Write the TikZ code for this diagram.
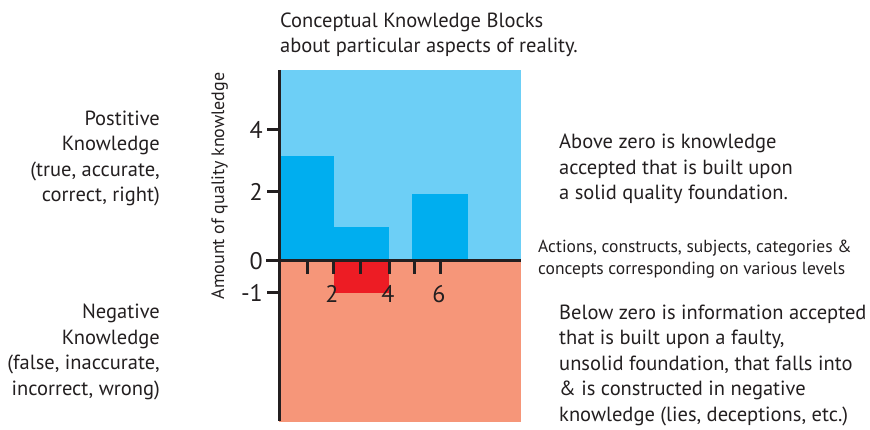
\documentclass[tikz,border=0pt]{standalone}
\usepackage{fontspec}
\setmainfont{PT Sans}
\definecolor{ink}{HTML}{231F20}
\definecolor{posfill}{HTML}{6DCFF6}
\definecolor{negfill}{HTML}{F69679}
\definecolor{blockblue}{HTML}{00AEEF}
\definecolor{blockred}{HTML}{ED1C24}
\begin{document}
\begin{tikzpicture}[x=1pt,y=-1pt]
\tikzstyle{txt}=[inner sep=0pt,text=ink,align=left,font=\fontsize{20.5}{25.5}\selectfont]
\tikzstyle{txtr}=[inner sep=0pt,text=ink,align=right,font=\fontsize{20.5}{25.5}\selectfont]
\tikzstyle{small}=[inner sep=0pt,text=ink,align=left,font=\fontsize{17.5}{22}\selectfont]
\tikzstyle{num}=[inner sep=0pt,text=ink,font=\fontsize{24}{24}\selectfont]
\tikzstyle{axis}=[draw=ink,line width=3pt]
\useasboundingbox (0,0) rectangle (870,430);

\fill[posfill] (279,70) rectangle (521,261);
\fill[negfill] (279,261) rectangle (521,422);
\fill[blockblue] (279,156) rectangle (334,261);
\fill[blockblue] (334,227) rectangle (389,261);
\fill[blockblue] (412,194) rectangle (468,261);
\fill[blockred] (334,261) rectangle (389,293);

\draw[axis] (279,70) -- (279,421);
\draw[axis] (266,261) -- (521,261);
\foreach \y in {130,192,293} \draw[axis] (267,\y) -- (279,\y);
\foreach \x in {307,333,360,389,414,440} \draw[axis] (\x,261) -- (\x,274);

\path (263,130) node[num,anchor=east](y4){4}
      (263,192) node[num,anchor=east](y2){2}
      (263,261) node[num,anchor=east](y0){0}
      (263,293) node[num,anchor=east](ym1){-1};
\path (332,303) node[num,anchor=base](x2){2}
      (388,303) node[num,anchor=base](x4){4}
      (439,303) node[num,anchor=base](x6){6};
\node[inner sep=0pt,text=ink,font=\fontsize{18}{18}\selectfont,rotate=90,anchor=base] (ylab) at (224,186) {Amount of quality knowledge};

\node[txt,anchor=base west] (title) at (280,53) {Conceptual Knowledge Blocks\\about particular aspects of reality.};
\node[txtr,anchor=base east] (pos) at (160,202) {Postitive\\Knowledge\\(true, accurate,\\correct, right)};
\node[txtr,anchor=base east] (neg) at (160,395) {Negative\\Knowledge\\(false, inaccurate,\\incorrect, wrong)};
\node[txt,anchor=base west] (above) at (559,200) {Above zero is knowledge\\accepted that is built upon\\a solid quality foundation.};
\node[small,anchor=base west] (levels) at (538,275) {Actions, constructs, subjects, categories \&\\concepts corresponding on various levels};
\node[txt,anchor=base west] (below) at (559,421) {Below zero is information accepted\\that is built upon a faulty,\\unsolid foundation, that falls into\\\& is constructed in negative\\knowledge (lies, deceptions, etc.)};
\end{tikzpicture}
\end{document}
